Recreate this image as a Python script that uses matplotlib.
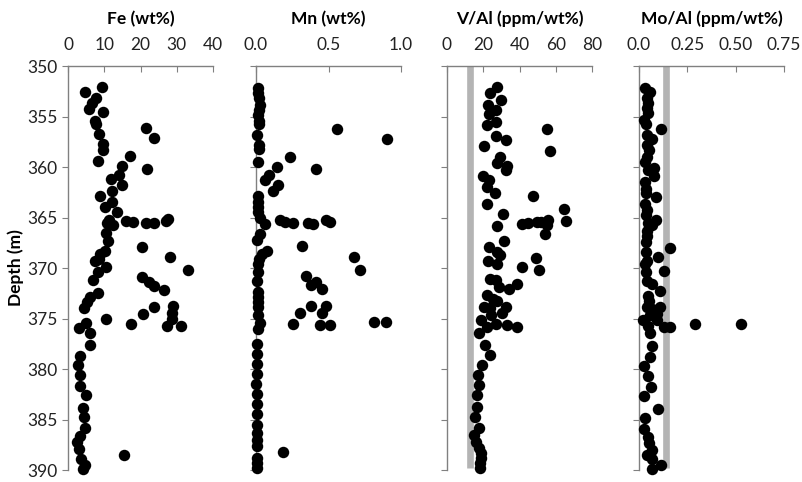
import numpy as np
import matplotlib
matplotlib.use('Agg')
import matplotlib.pyplot as plt

plt.rcParams['font.family'] = ['Lato', 'DejaVu Sans']

# Fe (wt%) vs depth
fe_depth = [352.05, 352.55, 353.2, 353.7, 354.3, 354.6, 355.4, 355.7, 356.1, 356.75,
            357.1, 357.75, 358.3, 358.9, 359.4, 359.9, 360.2, 360.8, 361.2, 361.8,
            362.4, 362.85, 363.5, 364.0, 364.5, 365.2, 365.35, 365.4, 365.5, 365.5,
            365.3, 365.15, 365.7, 365.55, 366.5, 367.3, 367.95, 368.3, 368.6, 368.9,
            369.3, 369.1, 369.9, 370.35, 370.2, 370.9, 371.15, 371.4, 371.75, 372.15,
            372.5, 372.9, 373.4, 374.0, 373.85, 373.8, 374.5, 374.6, 375.0, 375.05,
            375.45, 375.55, 375.7, 375.7, 375.9, 376.4, 377.65, 378.7, 379.6, 380.6,
            381.7, 382.6, 383.85, 384.8, 385.8, 386.6, 387.2, 387.9, 388.5, 388.9,
            389.5, 389.9]
fe = [9.3, 4.8, 7.8, 6.6, 5.7, 9.6, 7.4, 7.8, 21.4, 8.6,
      23.8, 9.6, 9.6, 17.2, 8.3, 15.0, 21.8, 14.1, 11.9, 14.8,
      12.1, 8.8, 12.2, 10.2, 13.4, 11.2, 16.1, 17.8, 21.4, 23.6,
      27.0, 27.7, 12.5, 10.7, 10.4, 11.0, 20.4, 10.1, 8.9, 28.2,
      7.5, 8.5, 10.5, 8.4, 33.2, 20.4, 6.8, 22.3, 23.8, 26.4,
      8.2, 6.2, 5.3, 4.5, 23.8, 29.0, 28.8, 20.7, 10.4, 28.8,
      5.1, 17.3, 27.2, 31.1, 3.0, 6.0, 6.0, 3.4, 2.8, 3.4,
      3.4, 4.9, 4.2, 4.4, 4.7, 3.3, 2.4, 3.0, 15.4, 3.6,
      4.8, 4.2]

# Mn (wt%) vs depth
mn_depth = [352.2, 352.7, 353.2, 353.9, 354.4, 354.9, 355.4, 355.7, 356.85, 357.85,
            358.2, 359.5, 356.2, 357.25, 359.0, 360.2, 360.0, 360.8, 361.3, 361.8,
            362.4, 362.9, 363.5, 364.0, 364.5, 365.0, 365.6, 365.2, 365.45, 365.5,
            365.5, 365.6, 365.2, 365.4, 366.6, 367.2, 367.85, 368.3, 368.6, 369.1,
            369.6, 368.95, 370.2, 370.4, 371.25, 370.8, 371.7, 371.35, 372.1, 372.4,
            372.9, 373.4, 373.9, 373.8, 373.8, 374.5, 374.5, 374.7, 375.4, 376.05,
            375.55, 375.6, 375.6, 375.3, 375.3, 377.55, 378.55, 379.55, 380.5, 381.5,
            382.5, 383.5, 384.5, 385.5, 386.3, 387.0, 387.65, 388.2, 388.8, 389.3,
            389.8]
mn = [0.014, 0.014, 0.018, 0.03, 0.018, 0.014, 0.023, 0.018, 0.007, 0.018,
      0.018, 0.012, 0.56, 0.905, 0.233, 0.415, 0.145, 0.092, 0.065, 0.152,
      0.115, 0.014, 0.014, 0.014, 0.014, 0.03, 0.065, 0.168, 0.198, 0.256,
      0.36, 0.39, 0.48, 0.507, 0.03, 0.007, 0.318, 0.076, 0.04, 0.018,
      0.014, 0.675, 0.717, 0.014, 0.007, 0.346, 0.376, 0.415, 0.452, 0.014,
      0.014, 0.014, 0.014, 0.382, 0.486, 0.306, 0.452, 0.014, 0.03, 0.014,
      0.253, 0.438, 0.507, 0.813, 0.899, 0.007, 0.007, 0.007, 0.007, 0.0,
      0.007, 0.007, 0.007, 0.007, 0.007, 0.007, 0.007, 0.187, 0.007, 0.007,
      0.007]

# V/Al (ppm/wt%) vs depth
v_depth = [352.05, 352.7, 353.4, 353.9, 354.4, 354.8, 355.5, 355.8, 356.2, 356.9,
           357.3, 357.95, 358.4, 359.0, 359.65, 359.9, 360.3, 360.9, 361.3, 362.0,
           362.55, 362.9, 363.65, 364.15, 364.7, 365.3, 365.8, 365.6, 365.55, 365.45,
           365.4, 365.2, 365.7, 366.6, 367.3, 367.95, 368.45, 368.7, 369.0, 369.35,
           369.6, 369.9, 370.2, 371.05, 371.2, 371.9, 372.1, 371.55, 372.65, 373.05,
           373.3, 373.85, 374.0, 373.85, 374.5, 374.7, 375.1, 375.5, 375.6, 375.8,
           375.85, 376.45, 377.65, 378.65, 379.6, 380.6, 381.6, 382.6, 383.75, 384.75,
           385.8, 386.5, 387.2, 387.85, 388.35, 388.85, 389.35, 389.85]
v_al = [27.8, 23.6, 30.0, 22.7, 27.3, 22.9, 26.9, 22.3, 55.3, 26.9,
        32.4, 20.5, 57.1, 29.3, 27.8, 33.3, 32.4, 19.6, 23.3, 21.8,
        26.6, 47.4, 22.3, 64.8, 31.1, 65.8, 27.5, 41.6, 44.7, 49.8,
        51.6, 55.7, 55.3, 53.8, 31.5, 23.3, 27.8, 29.3, 48.9, 22.7,
        27.8, 41.6, 50.7, 23.8, 26.9, 28.8, 34.2, 38.5, 22.3, 25.6,
        27.8, 20.5, 23.8, 32.4, 30.6, 24.5, 18.7, 26.9, 33.3, 38.5,
        22.3, 17.8, 21.1, 23.8, 19.2, 17.2, 17.8, 16.8, 16.8, 15.6,
        17.8, 14.7, 15.9, 17.8, 18.7, 18.7, 18.3, 18.1]

# Mo/Al (ppm/wt%) vs depth
mo_depth = [352.2, 352.6, 353.2, 353.7, 354.2, 354.7, 355.35, 355.75, 356.2, 356.85,
            357.25, 357.85, 358.35, 359.0, 359.5, 360.05, 360.3, 360.9, 361.5, 362.15,
            362.6, 363.0, 363.7, 364.3, 364.8, 365.25, 365.5, 365.7, 366.3, 366.8,
            367.45, 368.05, 368.45, 368.95, 369.3, 369.65, 370.25, 370.4, 371.25, 371.6,
            372.25, 372.75, 373.25, 373.9, 374.05, 373.9, 374.55, 374.65, 375.1, 375.1,
            375.8, 375.8, 375.55, 375.55, 375.75, 376.4, 377.7, 378.8, 379.7, 380.7,
            381.75, 382.7, 383.95, 384.85, 385.95, 386.7, 387.3, 388.0, 388.5, 388.95,
            389.55, 389.95]
mo_al = [0.031, 0.057, 0.04, 0.045, 0.04, 0.049, 0.028, 0.035, 0.114, 0.04,
         0.069, 0.04, 0.052, 0.04, 0.031, 0.080, 0.045, 0.080, 0.031, 0.035,
         0.036, 0.087, 0.031, 0.04, 0.035, 0.087, 0.045, 0.066, 0.04, 0.04,
         0.035, 0.161, 0.035, 0.10, 0.04, 0.031, 0.13, 0.035, 0.04, 0.069,
         0.109, 0.045, 0.052, 0.04, 0.066, 0.109, 0.092, 0.057, 0.023, 0.092,
         0.127, 0.161, 0.291, 0.525, 0.049, 0.057, 0.069, 0.057, 0.028, 0.049,
         0.062, 0.028, 0.097, 0.031, 0.028, 0.045, 0.052, 0.069, 0.04, 0.069,
         0.114, 0.066]

titles = ['Fe (wt%)', 'Mn (wt%)', 'V/Al (ppm/wt%)', 'Mo/Al (ppm/wt%)']
xlims = [(0, 40), (0, 1.0), (0, 80), (0, 0.75)]
xticks = [[0, 10, 20, 30, 40], [0, 0.5, 1.0], [0, 20, 40, 60, 80], [0, 0.25, 0.5, 0.75]]
xticklabels = [['0', '10', '20', '30', '40'], ['0.0', '0.5', '1.0'],
               ['0', '20', '40', '60', '80'], ['0.0', '0.25', '0.50', '0.75']]
# reference lines (average shale) for V/Al and Mo/Al
ref_lines = [None, None, 12.8, 0.139]

data = [(fe, fe_depth), (mn, mn_depth), (v_al, v_depth), (mo_al, mo_depth)]
lefts = [68, 256, 447, 639]

W, H = 802, 482
fig = plt.figure(figsize=(W / 100, H / 100), dpi=100)

for i in range(4):
    ax = fig.add_axes([lefts[i] / W, 12 / H, 145 / W, 404 / H])
    x, d = data[i]
    if ref_lines[i] is not None:
        ax.plot([ref_lines[i], ref_lines[i]], [350, 389.8], color='#b4b4b4',
                lw=4.8, solid_capstyle='butt', zorder=1)
    ax.scatter(x, d, s=68, color='black', zorder=3, clip_on=False, linewidths=0)
    ax.set_xlim(*xlims[i])
    ax.set_ylim(390, 350)
    ax.xaxis.tick_top()
    ax.set_xticks(xticks[i])
    ax.set_xticklabels(xticklabels[i])
    ax.set_yticks(np.arange(350, 391, 5))
    ax.tick_params(axis='x', direction='in', length=4, color='#808080',
                   labelsize=12.5, pad=9, labelcolor='#222222')
    ax.tick_params(axis='y', direction='out', length=4, color='#808080',
                   labelsize=12.5, labelcolor='#222222')
    if i > 0:
        ax.set_yticklabels([])
    for s in ['right', 'bottom']:
        ax.spines[s].set_visible(False)
    for s in ['left', 'top']:
        ax.spines[s].set_color('#808080')
        ax.spines[s].set_linewidth(1.0)
    ax.set_title(titles[i], fontsize=12.5, fontweight='bold', pad=30)
    if i == 0:
        ax.set_ylabel('Depth (m)', fontsize=12.5, fontweight='bold', labelpad=2)

fig.savefig('out.png', dpi=100)
